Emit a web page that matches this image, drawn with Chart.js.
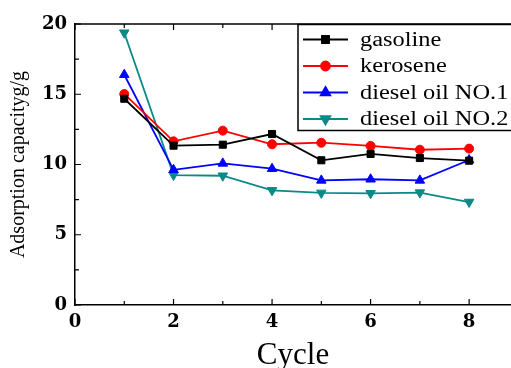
<!DOCTYPE html>
<html>
<head>
<meta charset="utf-8">
<script src="https://cdn.jsdelivr.net/npm/chart.js@4/dist/chart.umd.min.js"></script>
<style>
html,body{margin:0;padding:0;background:#fff;overflow:hidden;}
#wrap{position:relative;width:511px;height:368px;}
</style>
</head>
<body>
<div id="wrap"><canvas id="c" width="511" height="368"></canvas></div>
<script>
// ---- data ----
const cycles = [1, 2, 3, 4, 5, 6, 7, 8];
const gasoline = [14.68, 11.34, 11.41, 12.17, 10.30, 10.75, 10.46, 10.27];
const kerosene = [15.02, 11.65, 12.41, 11.44, 11.55, 11.32, 11.05, 11.13];
const dieselNo1 = [16.39, 9.62, 10.08, 9.70, 8.87, 8.95, 8.87, 10.32];
const dieselNo2 = [19.38, 9.25, 9.20, 8.16, 7.98, 7.95, 8.00, 7.33];
const seriesNames = ['gasoline', 'kerosene', 'diesel oil NO.1', 'diesel oil NO.2'];
const xTickLabels = [0, 2, 4, 6, 8];
const xMinorTicks = [1, 3, 5, 7];
const yTickLabels = [0, 5, 10, 15, 20];
const yMinorTicks = [2.5, 7.5, 12.5, 17.5];
const xTitle = 'Cycle';
const yTitle = 'Adsorption capacityg/g';

const pts = arr => cycles.map((c, i) => ({x: c, y: arr[i]}));

const styles = [
  {color: '#000000', pointStyle: 'rect', radius: 5, rotation: 0},
  {color: '#ff0000', pointStyle: 'circle', radius: 4.5, rotation: 0},
  {color: '#0000ff', pointStyle: 'triangle', radius: 5.5, rotation: 0},
  {color: '#0a8a87', pointStyle: 'triangle', radius: 5.5, rotation: 180}
];
const values = [gasoline, kerosene, dieselNo1, dieselNo2];

const datasets = values.map((v, i) => ({
  label: seriesNames[i],
  data: pts(v),
  borderColor: styles[i].color,
  backgroundColor: styles[i].color,
  pointBackgroundColor: styles[i].color,
  pointBorderColor: styles[i].color,
  pointStyle: styles[i].pointStyle,
  pointRadius: styles[i].radius,
  pointRotation: styles[i].rotation,
  pointBorderWidth: 1,
  borderWidth: 1.8,
  tension: 0,
  fill: false
}));

const framePlugin = {
  id: 'frame',
  afterDraw(chart) {
    const ctx = chart.ctx;
    const a = chart.chartArea;
    const xs = chart.scales.x, ys = chart.scales.y;
    ctx.save();
    ctx.strokeStyle = '#000';
    ctx.lineWidth = 1.5;
    ctx.beginPath();
    ctx.moveTo(a.left, a.top);
    ctx.lineTo(a.right, a.top);
    ctx.stroke();
    ctx.lineWidth = 1.2;
    ctx.beginPath();
    xTickLabels.forEach(v => {
      const p = xs.getPixelForValue(v);
      ctx.moveTo(p, a.bottom); ctx.lineTo(p, a.bottom - 6);
      ctx.moveTo(p, a.top); ctx.lineTo(p, a.top + 6);
    });
    xMinorTicks.forEach(v => {
      const p = xs.getPixelForValue(v);
      ctx.moveTo(p, a.bottom); ctx.lineTo(p, a.bottom - 4);
      ctx.moveTo(p, a.top); ctx.lineTo(p, a.top + 4);
    });
    yTickLabels.forEach(v => {
      const p = ys.getPixelForValue(v);
      ctx.moveTo(a.left, p); ctx.lineTo(a.left + 6, p);
    });
    yMinorTicks.forEach(v => {
      const p = ys.getPixelForValue(v);
      ctx.moveTo(a.left, p); ctx.lineTo(a.left + 4, p);
    });
    ctx.stroke();

    // legend box
    const bx = 298, by = a.top + 0.5, bw = 230, bh = 106;
    ctx.fillStyle = '#fff';
    ctx.fillRect(bx, by, bw, bh);
    ctx.lineWidth = 1.5;
    ctx.strokeStyle = '#000';
    ctx.strokeRect(bx, by, bw, bh);
    chart.data.datasets.forEach((ds, i) => {
      const cy = by + 15 + i * 26.5;
      ctx.strokeStyle = ds.borderColor;
      ctx.lineWidth = 1.8;
      ctx.beginPath();
      ctx.moveTo(303, cy); ctx.lineTo(348, cy);
      ctx.stroke();
      ctx.fillStyle = ds.pointBackgroundColor;
      Chart.helpers.drawPoint(ctx, {
        pointStyle: ds.pointStyle,
        radius: ds.pointRadius,
        rotation: ds.pointRotation,
        borderWidth: 1
      }, 325.5, cy);
      ctx.fill();
      ctx.save();
      ctx.translate(360, cy + 1);
      ctx.scale(1.22, 1);
      ctx.fillStyle = '#000';
      ctx.font = '20px "Liberation Serif", "Times New Roman", serif';
      ctx.textBaseline = 'middle';
      ctx.textAlign = 'left';
      ctx.fillText(ds.label, 0, 0);
      ctx.restore();
    });
    ctx.restore();
  }
};

new Chart(document.getElementById('c'), {
  type: 'line',
  data: {datasets},
  plugins: [framePlugin],
  options: {
    responsive: false,
    animation: false,
    devicePixelRatio: 1,
    layout: {autoPadding: false, padding: {top: 24, left: 0, right: 0, bottom: 0}},
    plugins: {legend: {display: false}, tooltip: {enabled: false}},
    scales: {
      x: {
        type: 'linear',
        min: 0,
        max: 8.85,
        afterBuildTicks: s => { s.ticks = xTickLabels.map(v => ({value: v})); },
        afterFit: s => { s.height = 63; s.paddingRight = 0; s.paddingLeft = 0; },
        grid: {display: false, drawTicks: false},
        border: {display: true, color: '#000', width: 1.5},
        ticks: {
          color: '#000',
          padding: 7,
          maxRotation: 0,
          font: {family: '"DejaVu Serif", serif', weight: 'bold', size: 18}
        },
        title: {
          display: true,
          text: xTitle,
          color: '#000',
          padding: {top: 0, bottom: -6},
          font: {family: '"Liberation Serif", "Times New Roman", serif', size: 31}
        }
      },
      y: {
        type: 'linear',
        min: 0,
        max: 20,
        afterBuildTicks: s => { s.ticks = yTickLabels.map(v => ({value: v})); },
        afterFit: s => { s.width = 75; s.paddingTop = 0; s.paddingBottom = 0; },
        grid: {display: false, drawTicks: false},
        border: {display: true, color: '#000', width: 1.5},
        ticks: {
          color: '#000',
          padding: 8,
          font: {family: '"DejaVu Serif", serif', weight: 'bold', size: 18}
        },
        title: {
          display: true,
          text: yTitle,
          color: '#000',
          padding: {top: 7, bottom: 0},
          font: {family: '"Liberation Serif", "Times New Roman", serif', size: 20}
        }
      }
    }
  }
});
</script>
</body>
</html>
